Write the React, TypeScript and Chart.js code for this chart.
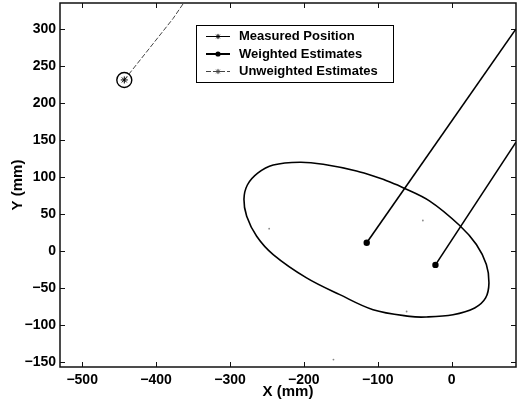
import React, { useEffect, useRef } from 'react';
import { Chart, registerables } from 'chart.js';

Chart.register(...registerables);

// ---- data ----
const xTicks = [-500, -400, -300, -200, -100, 0];
const yTicks = [-150, -100, -50, 0, 50, 100, 150, 200, 250, 300];
const xLimits = [-530, 87];
const yLimits = [-157, 335];

const legendLabels = ['Measured Position', 'Weighted Estimates', 'Unweighted Estimates'];

const measuredX = [-443];
const measuredY = [231];

const weightedAX = [-115, 87];
const weightedAY = [11, 300];
const weightedBX = [-22, 87];
const weightedBY = [-19, 147];

const unweightedX = [-443, -377, -362];
const unweightedY = [231, 314, 336];

const ellipseX = [-92.8, -65.8, -29.7, 10.8, 33.4, 46.9, 50.4, 45.9, 31.1, 1.8, -34.2, -56.8, -106.4, -151.4, -196.4, -241.5, -263.9, -277.4, -281.1, -276.5, -262.5, -241.5, -205.4, -173.9, -128.8, -92.8];
const ellipseY = [96.7, 85.4, 67.3, 34.3, 8.6, -18.5, -43.3, -63.7, -77.2, -86.3, -89.4, -88.6, -79.5, -59.2, -36.5, -5.0, 19.8, 46.9, 69.6, 89.0, 105.0, 116.0, 119.8, 117.0, 107.9, 96.7];

const speckX = [-247, -39, -61, -160];
const speckY = [30, 41, -82, -147];

const pts = (xs: number[], ys: number[]) => xs.map((x, i) => ({ x, y: ys[i] }));

const FONT = "'Liberation Sans', Arial, Helvetica, sans-serif";
const fmt = (v: number) => (v < 0 ? '\u2212' + Math.abs(v) : String(v));

const zeroPad = (s: any) => {
  s.paddingLeft = 0;
  s.paddingRight = 0;
  s.paddingTop = 0;
  s.paddingBottom = 0;
};

export default function App() {
  const ref = useRef<HTMLCanvasElement>(null);

  useEffect(() => {
    if (!ref.current) return;

    const framePlugin = {
      id: 'frame',
      afterDatasetsDraw(chart: any) {
        const { ctx, chartArea: a, scales } = chart;
        const sx = scales.x;
        const sy = scales.y;
        ctx.save();
        ctx.strokeStyle = '#111';
        ctx.lineWidth = 1;
        ctx.beginPath();
        for (const t of sx.ticks) {
          const p = Math.round(sx.getPixelForValue(t.value)) + 0.5;
          ctx.moveTo(p, a.bottom);
          ctx.lineTo(p, a.bottom - 5);
          ctx.moveTo(p, a.top);
          ctx.lineTo(p, a.top + 5);
        }
        for (const t of sy.ticks) {
          const p = Math.round(sy.getPixelForValue(t.value)) + 0.5;
          ctx.moveTo(a.left, p);
          ctx.lineTo(a.left + 5, p);
          ctx.moveTo(a.right, p);
          ctx.lineTo(a.right - 5, p);
        }
        ctx.stroke();
        ctx.lineWidth = 1.5;
        ctx.strokeRect(a.left, a.top, a.right - a.left, a.bottom - a.top);
        ctx.restore();
      },
    };

    const legendPlugin = {
      id: 'boxLegend',
      afterDraw(chart: any) {
        const { ctx, chartArea: a } = chart;
        const ds = chart.data.datasets;
        const entries = [ds[0], ds[1], ds[3]];
        const L = a.left + 136;
        const T = a.top + 22;
        const W = 197;
        const H = 57;
        ctx.save();
        ctx.fillStyle = '#fff';
        ctx.fillRect(L, T, W, H);
        ctx.strokeStyle = '#000';
        ctx.lineWidth = 1;
        ctx.strokeRect(L + 0.5, T + 0.5, W, H);
        entries.forEach((d: any, i: number) => {
          const yy = T + 11.5 + i * 17.5;
          ctx.save();
          ctx.strokeStyle = d.borderColor;
          ctx.lineWidth = i === 1 ? 2 : 1;
          ctx.setLineDash(d.borderDash || []);
          ctx.beginPath();
          ctx.moveTo(L + 10, yy);
          ctx.lineTo(L + 34, yy);
          ctx.stroke();
          ctx.setLineDash([]);
          const cx = L + 22;
          if (i === 1) {
            ctx.fillStyle = '#000';
            ctx.beginPath();
            ctx.arc(cx, yy, 2.6, 0, Math.PI * 2);
            ctx.fill();
          } else {
            const r = 2.6;
            ctx.lineWidth = 1;
            ctx.beginPath();
            ctx.moveTo(cx - r, yy); ctx.lineTo(cx + r, yy);
            ctx.moveTo(cx, yy - r); ctx.lineTo(cx, yy + r);
            ctx.moveTo(cx - r * 0.7, yy - r * 0.7); ctx.lineTo(cx + r * 0.7, yy + r * 0.7);
            ctx.moveTo(cx - r * 0.7, yy + r * 0.7); ctx.lineTo(cx + r * 0.7, yy - r * 0.7);
            ctx.stroke();
          }
          ctx.restore();
          ctx.fillStyle = '#000';
          ctx.font = `bold 13px ${FONT}`;
          ctx.textBaseline = 'middle';
          ctx.textAlign = 'left';
          ctx.fillText(legendLabels[i], L + 43, yy);
        });
        ctx.restore();
      },
    };

    const tickFont = { family: FONT, size: 14, weight: 'bold' as const };
    const titleFont = { family: FONT, size: 15, weight: 'bold' as const };

    const chart = new Chart(ref.current, {
      type: 'scatter',
      data: {
        datasets: [
          {
            label: legendLabels[0],
            data: pts(measuredX, measuredY),
            showLine: false,
            pointStyle: 'star',
            pointRadius: 3.5,
            pointBorderColor: '#000',
            pointBackgroundColor: '#000',
            pointBorderWidth: 1,
            borderColor: '#000',
            borderWidth: 1,
          },
          {
            label: legendLabels[1],
            data: pts(weightedAX, weightedAY),
            showLine: true,
            borderColor: '#000',
            borderWidth: 1.6,
            pointStyle: 'circle',
            pointRadius: [3.2, 0],
            pointBackgroundColor: '#000',
            pointBorderColor: '#000',
            pointBorderWidth: 0,
          },
          {
            label: legendLabels[1],
            data: pts(weightedBX, weightedBY),
            showLine: true,
            borderColor: '#000',
            borderWidth: 1.6,
            pointStyle: 'circle',
            pointRadius: [3.2, 0],
            pointBackgroundColor: '#000',
            pointBorderColor: '#000',
            pointBorderWidth: 0,
          },
          {
            label: legendLabels[2],
            data: pts(unweightedX, unweightedY),
            showLine: true,
            borderColor: '#444',
            borderWidth: 1,
            borderDash: [5, 2],
            pointRadius: 0,
          },
          {
            label: 'ellipse',
            data: pts(ellipseX, ellipseY),
            showLine: true,
            borderColor: '#000',
            borderWidth: 1.6,
            pointRadius: 0,
            tension: 0.35,
          },
          {
            label: 'ring',
            data: pts(measuredX, measuredY),
            showLine: false,
            pointStyle: 'circle',
            pointRadius: 7.5,
            pointBackgroundColor: 'rgba(0,0,0,0)',
            pointBorderColor: '#000',
            pointBorderWidth: 1.4,
          },
          {
            label: 'specks',
            data: pts(speckX, speckY),
            showLine: false,
            pointStyle: 'circle',
            pointRadius: 0.9,
            pointBackgroundColor: '#888',
            pointBorderWidth: 0,
          },
        ],
      },
      options: {
        responsive: false,
        animation: false,
        devicePixelRatio: 1,
        layout: { autoPadding: false, padding: { top: 3, right: 1, left: 0, bottom: 0 } },
        plugins: {
          legend: { display: false },
          tooltip: { enabled: false },
          colors: { enabled: false },
        } as any,
        scales: {
          x: {
            type: 'linear',
            position: 'bottom',
            min: xLimits[0],
            max: xLimits[1],
            afterBuildTicks: (s: any) => {
              s.ticks = xTicks.map((v) => ({ value: v }));
            },
            afterFit: (s: any) => {
              s.height = 37;
              zeroPad(s);
            },
            grid: { display: false, drawTicks: false },
            border: { display: false },
            ticks: {
              padding: 5,
              color: '#000',
              font: tickFont,
              maxRotation: 0,
              autoSkip: false,
              callback: (v: any) => fmt(Number(v)),
            },
            title: {
              display: true,
              text: 'X (mm)',
              color: '#000',
              font: titleFont,
              padding: { top: 0, bottom: 3 },
            },
          },
          y: {
            type: 'linear',
            position: 'left',
            min: yLimits[0],
            max: yLimits[1],
            afterBuildTicks: (s: any) => {
              s.ticks = yTicks.map((v) => ({ value: v }));
            },
            afterFit: (s: any) => {
              s.width = 60;
              zeroPad(s);
            },
            grid: { display: false, drawTicks: false },
            border: { display: false },
            ticks: {
              padding: 4,
              color: '#000',
              font: tickFont,
              autoSkip: false,
              callback: (v: any) => fmt(Number(v)),
            },
            title: {
              display: true,
              text: 'Y (mm)',
              color: '#000',
              font: titleFont,
              padding: { top: 9, bottom: 0 },
            },
          },
        },
      } as any,
      plugins: [framePlugin, legendPlugin],
    });

    return () => chart.destroy();
  }, []);

  return (
    <div style={{ position: 'fixed', left: 0, top: 0, width: 517, height: 404, background: '#fff' }}>
      <canvas ref={ref} width={517} height={404} style={{ display: 'block' }} />
    </div>
  );
}
